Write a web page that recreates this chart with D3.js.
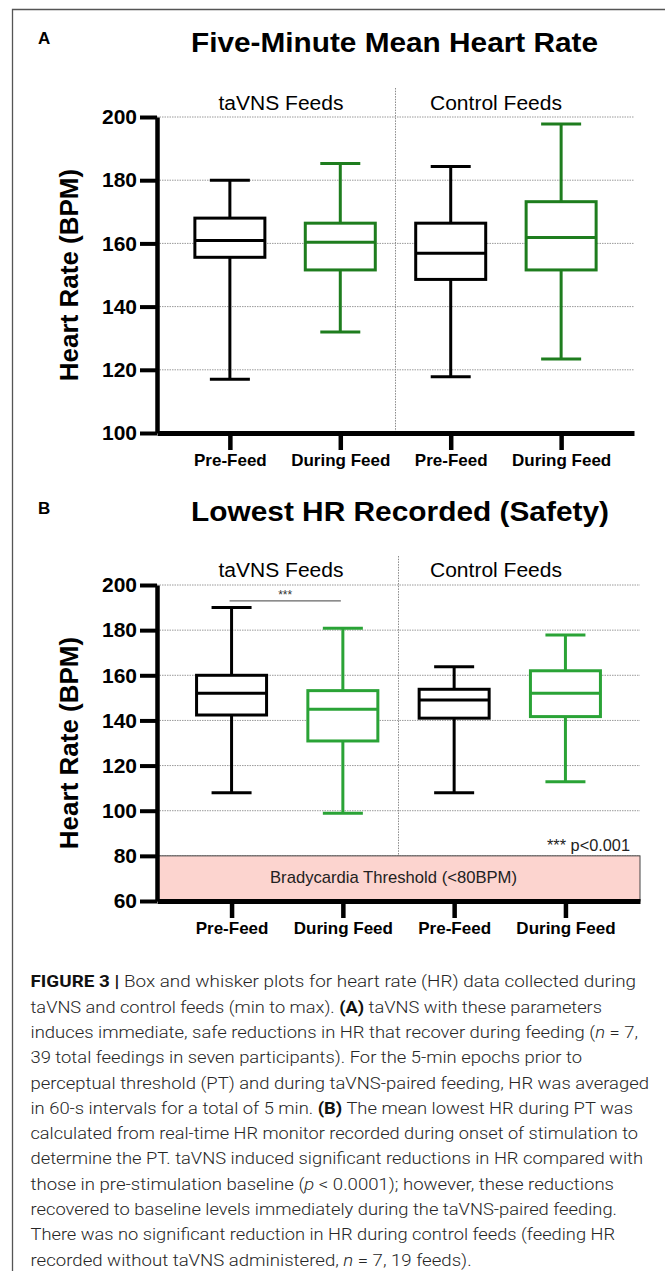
<!DOCTYPE html>
<html>
<head>
<meta charset="utf-8">
<script src="https://cdn.jsdelivr.net/npm/d3@7"></script>
<style>
  body { margin: 0; background: #fff; }
  svg { display: block; }
</style>
</head>
<body>
<script>
// ---------------- DATA ----------------
const categories = ["Pre-Feed", "During Feed", "Pre-Feed", "During Feed"];
const groups = ["taVNS Feeds", "Control Feeds"];
// five-number summaries [min, q1, median, q3, max]
const meanHR = [
  [117, 155.6, 160.9, 168.0, 180.0],
  [132, 151.6, 160.4, 166.4, 185.3],
  [117.8, 148.6, 156.9, 166.4, 184.3],
  [123.4, 151.6, 161.9, 173.2, 197.8]
];
const lowestHR = [
  [108, 142.4, 152.0, 160.0, 190.0],
  [98.9, 130.9, 144.9, 153.2, 180.8],
  [108, 141.0, 149.0, 153.8, 163.8],
  [112.8, 141.7, 152.0, 162.0, 177.9]
];
const ticksA = [100, 120, 140, 160, 180, 200];
const ticksB = [60, 80, 100, 120, 140, 160, 180, 200];
const titles = ["Five-Minute Mean Heart Rate", "Lowest HR Recorded (Safety)"];
const panelLetters = ["A", "B"];
const yTitle = "Heart Rate (BPM)";
const bradyThreshold = [60, 80];
const bradyLabel = "Bradycardia Threshold (<80BPM)";
const sigLabel = "***";
const pLabel = "*** p<0.001";
const sigLevel = 193;

const caption = [
  [["FIGURE 3 | ", "b"], ["Box and whisker plots for heart rate (HR) data collected during", ""]],
  [["taVNS and control feeds (min to max). ", ""], ["(A)", "b"], [" taVNS with these parameters", ""]],
  [["induces immediate, safe reductions in HR that recover during feeding (", ""], ["n", "i"], [" = 7,", ""]],
  [["39 total feedings in seven participants). For the 5-min epochs prior to", ""]],
  [["perceptual threshold (PT) and during taVNS-paired feeding, HR was averaged", ""]],
  [["in 60-s intervals for a total of 5 min. ", ""], ["(B)", "b"], [" The mean lowest HR during PT was", ""]],
  [["calculated from real-time HR monitor recorded during onset of stimulation to", ""]],
  [["determine the PT. taVNS induced significant reductions in HR compared with", ""]],
  [["those in pre-stimulation baseline (", ""], ["p", "i"], [" < 0.0001); however, these reductions", ""]],
  [["recovered to baseline levels immediately during the taVNS-paired feeding.", ""]],
  [["There was no significant reduction in HR during control feeds (feeding HR", ""]],
  [["recorded without taVNS administered, ", ""], ["n", "i"], [" = 7, 19 feeds).", ""]]
];
const captionRight = [636, 602, 638, 582, 649, 633, 638, 643, 614, 617, 615, 471.6];

// ---------------- DRAW ----------------
const W = 665, H = 1271;
const FONT = "'Liberation Sans', Arial, Helvetica, sans-serif";
const svg = d3.select("body").append("svg")
  .attr("width", W).attr("height", H)
  .attr("font-family", FONT);

svg.append("rect").attr("width", W).attr("height", H).attr("fill", "#fff");

// frame
svg.append("path")
  .attr("d", `M12.5,${H}V9.5H${W}`)
  .attr("fill", "none").attr("stroke", "#555").attr("stroke-width", 1.3);

function fitText(sel, len) {
  return sel.attr("textLength", len).attr("lengthAdjust", "spacingAndGlyphs");
}

function drawPanel(o) {
  const g = svg.append("g");
  const y = d3.scaleLinear().domain(o.yDomain).range(o.yRange);
  const x = d3.scalePoint().domain(d3.range(categories.length)).range(o.xRange).padding(o.pad);

  // panel letter
  g.append("text").attr("x", 38).attr("y", o.letterY)
    .attr("font-size", 17).attr("font-weight", "bold").text(o.letter);

  // title
  fitText(g.append("text").attr("x", o.titleX).attr("y", o.titleY)
    .attr("font-size", 27).attr("font-weight", "bold").text(o.title), o.titleLen);

  // grid lines
  g.append("g").selectAll("line")
    .data(o.ticks.filter(t => t > o.yDomain[0]))
    .join("line")
    .attr("x1", o.xRange[0]).attr("x2", o.xRange[1])
    .attr("y1", d => y(d)).attr("y2", d => y(d))
    .attr("stroke", "#9a9a9a").attr("stroke-width", 1)
    .attr("stroke-dasharray", "1.5,1");

  // separator between groups
  const sepX = (x(1) + x(2)) / 2;
  g.append("line")
    .attr("x1", sepX).attr("x2", sepX)
    .attr("y1", y(o.yDomain[1]) - 29).attr("y2", o.sepBottom != null ? y(o.sepBottom) : y(o.yDomain[0]))
    .attr("stroke", "#8a8a8a").attr("stroke-width", 1).attr("stroke-dasharray", "1.5,1.2");

  // group labels
  const gx = [o.groupX[0], o.groupX[1]];
  groups.forEach((t, i) => {
    fitText(g.append("text").attr("x", gx[i]).attr("y", o.groupY)
      .attr("text-anchor", "middle").attr("font-size", 20).text(t), o.groupLen[i]);
  });

  // bradycardia region
  if (o.brady) {
    g.append("rect")
      .attr("x", o.xRange[0]).attr("width", o.xRange[1] - o.xRange[0])
      .attr("y", y(bradyThreshold[1])).attr("height", y(bradyThreshold[0]) - y(bradyThreshold[1]))
      .attr("fill", "#fcd4cf").attr("stroke", "#444").attr("stroke-width", 1);
    fitText(g.append("text").attr("x", (o.xRange[0] + o.xRange[1]) / 2 - 5)
      .attr("y", y(bradyThreshold[1]) + 27.5)
      .attr("text-anchor", "middle").attr("font-size", 17).attr("fill", "#222").text(bradyLabel), 247);
    fitText(g.append("text").attr("x", 630).attr("y", y(bradyThreshold[1]) - 5)
      .attr("text-anchor", "end").attr("font-size", 16).attr("fill", "#222").text(pLabel), 83);
  }

  // significance bar
  if (o.sig) {
    const x0 = x(0) - 2, x1 = x(1) - 2;
    g.append("line").attr("x1", x0).attr("x2", x1)
      .attr("y1", y(sigLevel)).attr("y2", y(sigLevel))
      .attr("stroke", "#666").attr("stroke-width", 1.2);
    g.append("text").attr("x", (x0 + x1) / 2).attr("y", y(sigLevel) - 2)
      .attr("text-anchor", "middle").attr("font-size", 12).attr("fill", "#333").text(sigLabel);
  }

  // boxes
  const bw = 70, cap = 20;
  const boxes = g.append("g").selectAll("g").data(o.data).join("g")
    .attr("stroke", (d, i) => i % 2 ? o.green : "#000")
    .attr("stroke-width", 3).attr("fill", "none");
  boxes.append("rect")
    .attr("x", (d, i) => x(i) - bw / 2).attr("width", bw)
    .attr("y", d => y(d[3])).attr("height", d => y(d[1]) - y(d[3]))
    .attr("fill", "#fff");
  boxes.append("line").attr("x1", (d, i) => x(i) - bw / 2).attr("x2", (d, i) => x(i) + bw / 2)
    .attr("y1", d => y(d[2])).attr("y2", d => y(d[2]));
  boxes.append("line").attr("x1", (d, i) => x(i)).attr("x2", (d, i) => x(i))
    .attr("y1", d => y(d[4])).attr("y2", d => y(d[3]));
  boxes.append("line").attr("x1", (d, i) => x(i)).attr("x2", (d, i) => x(i))
    .attr("y1", d => y(d[1])).attr("y2", d => y(d[0]));
  boxes.append("line").attr("x1", (d, i) => x(i) - cap).attr("x2", (d, i) => x(i) + cap)
    .attr("y1", d => y(d[4])).attr("y2", d => y(d[4]));
  boxes.append("line").attr("x1", (d, i) => x(i) - cap).attr("x2", (d, i) => x(i) + cap)
    .attr("y1", d => y(d[0])).attr("y2", d => y(d[0]));

  // y axis
  const ya = g.append("g").attr("transform", `translate(${o.xRange[0]},0)`)
    .call(d3.axisLeft(y).tickValues(o.ticks).tickSize(17).tickSizeOuter(0).tickPadding(3));
  ya.select(".domain").attr("stroke-width", 4.5).attr("stroke", "#000");
  ya.selectAll(".tick line").attr("stroke-width", 4).attr("stroke", "#000");
  ya.selectAll(".tick text").attr("font-size", 21).attr("font-weight", "bold")
    .attr("font-family", FONT).attr("fill", "#000");

  // x axis
  const xa = g.append("g").attr("transform", `translate(0,${o.yRange[0]})`)
    .call(d3.axisBottom(x).tickSize(17).tickSizeOuter(0).tickPadding(4).tickFormat(i => categories[i]));
  xa.select(".domain").attr("stroke-width", 5).attr("stroke", "#000");
  xa.selectAll(".tick line").attr("stroke-width", 4.5).attr("stroke", "#000");
  xa.selectAll(".tick text").attr("font-size", 17).attr("font-weight", "bold")
    .attr("font-family", FONT).attr("fill", "#000");

  // y title
  const cy = (o.yRange[0] + o.yRange[1]) / 2;
  g.append("text").attr("transform", `translate(78,${cy}) rotate(-90)`)
    .attr("text-anchor", "middle").attr("font-size", 26).attr("font-weight", "bold").text(yTitle);
}

drawPanel({
  letter: panelLetters[0], letterY: 43.5,
  title: titles[0], titleX: 191, titleY: 52, titleLen: 407,
  yDomain: [100, 200], yRange: [433, 117], xRange: [157, 634], pad: 0.66,
  ticks: ticksA, data: meanHR, green: "#1e7d1e",
  groupX: [281, 496], groupY: 110, groupLen: [125, 132]
});

drawPanel({
  letter: panelLetters[1], letterY: 513.5,
  title: titles[1], titleX: 191, titleY: 521, titleLen: 418,
  yDomain: [60, 200], yRange: [901, 585], xRange: [157, 640], pad: 0.67,
  ticks: ticksB, data: lowestHR, green: "#2aa336",
  groupX: [281, 496], groupY: 577, groupLen: [125, 132],
  brady: true, sig: true, sepBottom: 77
});

// caption
const cap = svg.append("g").attr("font-family", "Roboto, 'Liberation Sans', Arial, sans-serif")
  .attr("font-size", 17).attr("fill", "#262626");
caption.forEach((segs, li) => {
  const t = cap.append("text").attr("x", 30.5).attr("y", 987.3 + li * 25.3)
    .attr("font-weight", 300);
  segs.forEach(([s, st]) => {
    const ts = t.append("tspan").text(s);
    if (st === "b") ts.attr("font-weight", "bold").attr("fill", "#111");
    if (st === "i") ts.attr("font-style", "italic");
  });
  fitText(t, captionRight[li] - 30.5);
});
</script>
</body>
</html>
